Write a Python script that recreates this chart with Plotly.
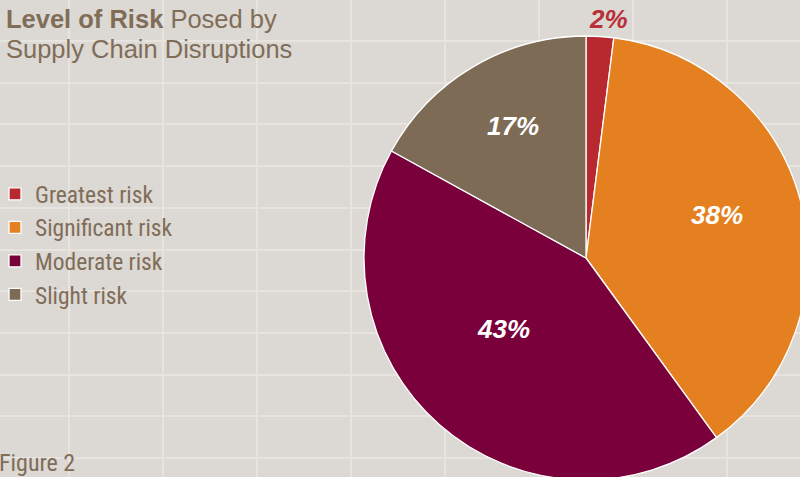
import math
import plotly.graph_objects as go

# Survey result: level of risk posed by supply chain disruptions
categories = ["Greatest risk", "Significant risk", "Moderate risk", "Slight risk"]
shares = [2, 38, 43, 17]
slice_colors = ["#b8282f", "#e4801f", "#7a003b", "#7e6b55"]

# Value label placement (fraction of radius, angular nudge in degrees)
label_radius = [1.08, 0.62, 0.49, 0.68]
label_nudge = [1.7, -3.8, 8.1, 1.6]
label_colors = ["#b8303a", "white", "white", "white"]

title_lines = ["<b>Level of Risk</b> Posed by", "Supply Chain Disruptions"]

W, H = 810, 480
BG = "#dcd8d3"
TEXT = "#806d58"
NARROW = "Roboto Condensed, Liberation Sans Narrow, DejaVu Sans Condensed, sans-serif"
SANS = "Liberation Sans, Arial, sans-serif"

# Pie geometry (domain in paper units)
dom_x = [362 / W, 1.0]
dom_y = [0.0, (H - 36) / H]
cx = (dom_x[0] + dom_x[1]) / 2 * W
cy = H - (dom_y[0] + dom_y[1]) / 2 * H
R = min((dom_x[1] - dom_x[0]) * W, (dom_y[1] - dom_y[0]) * H) / 2

fig = go.Figure()

# Invisible cartesian trace so the background grid axes are drawn
fig.add_trace(go.Scatter(x=[], y=[], showlegend=False, hoverinfo="skip"))

fig.add_trace(go.Pie(
    labels=categories,
    values=shares,
    sort=False,
    direction="clockwise",
    rotation=0,
    domain=dict(x=dom_x, y=dom_y),
    marker=dict(colors=slice_colors, line=dict(color="white", width=1.3)),
    textinfo="none",
    hoverinfo="label+percent",
))

# Value labels placed along each slice's angle
total = sum(shares)
start = 0.0
annotations = []
for v, rf, nd, col in zip(shares, label_radius, label_nudge, label_colors):
    sweep = v / total * 360
    ang = math.radians(start + sweep / 2 + nd)
    px = cx + rf * R * math.sin(ang)
    py = cy - rf * R * math.cos(ang)
    annotations.append(dict(
        x=px, y=py, xref="x", yref="y", text=f"{v}%", showarrow=False,
        xanchor="center", yanchor="middle",
        font=dict(family=SANS, size=26, color=col, weight="bold", style="italic"),
    ))
    start += sweep

# Two-line heading
for i, line in enumerate(title_lines):
    annotations.append(dict(
        x=4 / W, y=1 - (3 + 30 * i) / H, xref="paper", yref="paper",
        xanchor="left", yanchor="top", align="left", showarrow=False,
        text=line, font=dict(family=SANS, size=25.5, color=TEXT),
    ))

annotations.append(dict(
    x=-3 / W, y=1 - 447 / H, xref="paper", yref="paper",
    xanchor="left", yanchor="top", showarrow=False, text="Figure 2",
    font=dict(family=NARROW, size=24, color=TEXT),
))

grid = dict(showgrid=True, gridcolor="#e7e3df", gridwidth=2, zeroline=False,
            showticklabels=False, ticks="", showline=False, fixedrange=True)

fig.update_layout(
    width=W, height=H,
    autosize=False,
    margin=dict(l=0, r=0, t=0, b=0, autoexpand=False),
    paper_bgcolor=BG,
    plot_bgcolor=BG,
    xaxis=dict(range=[0, W], tick0=69, dtick=94, **grid),
    yaxis=dict(range=[H, 0], tick0=41, dtick=41.7, **grid),
    showlegend=True,
    legend=dict(
        x=-5 / W, xanchor="left", y=1 - 172 / H, yanchor="top",
        bgcolor="rgba(0,0,0,0)",
        font=dict(family=NARROW, size=23.5, color=TEXT),
        traceorder="normal",
    ),
    annotations=annotations,
)

fig.write_html(
    "out.html",
    post_script="document.documentElement.style.overflow='hidden';"
                "document.body.style.overflow='hidden';document.body.style.margin='0';",
)
